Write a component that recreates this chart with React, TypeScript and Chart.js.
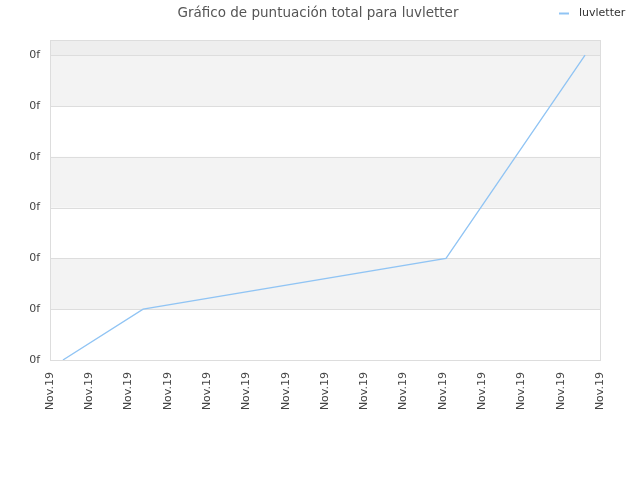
import React, { useEffect, useRef } from "react";
import { Chart, registerables } from "chart.js";

Chart.register(...registerables);

const titleText = "Gráfico de puntuación total para luvletter";
const seriesLabel = "luvletter";
const xValues = [0.33, 2.37, 10.08, 13.62];
const yValues = [0, 1, 2, 6];
const xTickLabel = "Nov.19";
const yTickLabel = "0f";

const FONT = "'DejaVu Sans', sans-serif";
const LINE_COLOR = "#90c4f4";

const decorPlugin = {
  id: "decor",
  beforeDatasetsDraw(chart: any) {
    const { ctx, chartArea } = chart;
    const y = chart.scales.y;
    const ticks = y.ticks.map((t: any) => y.getPixelForValue(t.value));
    ctx.save();
    const lastTick = ticks[ticks.length - 1];
    ctx.fillStyle = "#eeeeee";
    ctx.fillRect(chartArea.left, chartArea.top, chartArea.right - chartArea.left, lastTick - chartArea.top);
    for (let i = 0; i < ticks.length - 1; i++) {
      if (i % 2 === 1) {
        ctx.fillStyle = "#f3f3f3";
        ctx.fillRect(chartArea.left, ticks[i + 1], chartArea.right - chartArea.left, ticks[i] - ticks[i + 1]);
      }
    }
    ctx.strokeStyle = "#dddddd";
    ctx.lineWidth = 1;
    for (let i = 0; i < ticks.length; i++) {
      const py = Math.round(ticks[i]) + 0.5;
      ctx.beginPath();
      ctx.moveTo(chartArea.left, py);
      ctx.lineTo(chartArea.right, py);
      ctx.stroke();
    }
    ctx.strokeRect(
      Math.round(chartArea.left) + 0.5,
      Math.round(chartArea.top) + 0.5,
      Math.round(chartArea.right - chartArea.left),
      Math.round(chartArea.bottom - chartArea.top)
    );
    ctx.restore();
  },
  afterDraw(chart: any) {
    const { ctx } = chart;
    ctx.save();
    ctx.fillStyle = "#555555";
    ctx.font = `13.5px ${FONT}`;
    ctx.textAlign = "center";
    ctx.textBaseline = "middle";
    ctx.fillText(titleText, 318, 13);
    ctx.strokeStyle = LINE_COLOR;
    ctx.lineWidth = 2;
    ctx.beginPath();
    ctx.moveTo(559, 13.5);
    ctx.lineTo(569, 13.5);
    ctx.stroke();
    ctx.fillStyle = "#333333";
    ctx.font = `11px ${FONT}`;
    ctx.textAlign = "left";
    ctx.fillText(seriesLabel, 579, 13);
    ctx.restore();
  },
};

export default function App() {
  const ref = useRef<HTMLCanvasElement | null>(null);
  useEffect(() => {
    if (!ref.current) return;
    const chart = new Chart(ref.current, {
      type: "line",
      data: {
        datasets: [
          {
            label: seriesLabel,
            data: xValues.map((x, i) => ({ x, y: yValues[i] })),
            borderColor: LINE_COLOR,
            backgroundColor: LINE_COLOR,
            borderWidth: 1.3,
            pointRadius: 0,
            tension: 0,
          },
        ],
      },
      options: {
        animation: false,
        responsive: false,
        devicePixelRatio: 1,
        layout: { padding: { top: 40, right: 40, left: 0, bottom: 0 } },
        plugins: {
          legend: { display: false },
          title: { display: false },
          tooltip: { enabled: false },
        },
        scales: {
          x: {
            type: "linear",
            min: 0,
            max: 14,
            afterFit(scale: any) {
              scale.height = 120;
            },
            ticks: {
              stepSize: 1,
              minRotation: 90,
              maxRotation: 90,
              autoSkip: false,
              color: "#444444",
              font: { family: FONT, size: 11 },
              padding: 12,
              callback: () => xTickLabel,
            },
            grid: { display: false, drawTicks: false },
            border: { display: false },
          },
          y: {
            type: "linear",
            min: 0,
            max: 6.3,
            afterFit(scale: any) {
              scale.width = 50;
            },
            afterBuildTicks(scale: any) {
              scale.ticks = scale.ticks.filter((t: any) => Number.isInteger(t.value));
            },
            ticks: {
              stepSize: 1,
              color: "#444444",
              font: { family: FONT, size: 11 },
              padding: 10,
              callback: () => yTickLabel,
            },
            grid: { display: false, drawTicks: false },
            border: { display: false },
          },
        },
      },
      plugins: [decorPlugin],
    });
    return () => chart.destroy();
  }, []);
  return (
    <div style={{ position: "fixed", left: 0, top: 0, width: 640, height: 480, background: "#fff" }}>
      <canvas ref={ref} width={640} height={480} style={{ width: 640, height: 480 }} />
    </div>
  );
}
